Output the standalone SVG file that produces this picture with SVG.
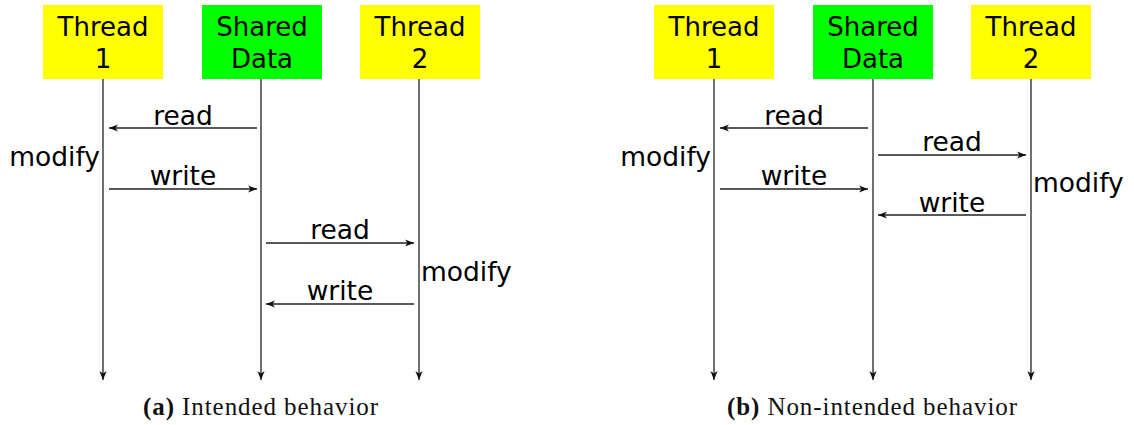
<svg xmlns="http://www.w3.org/2000/svg" width="1134" height="425" viewBox="0 0 1134 425">
  <style>
    .thread { fill: #ffff00; }
    .shared { fill: #00ff00; }
    .box-text { font-family: "DejaVu Sans", sans-serif; font-size: 26px; fill: #000; text-anchor: middle; }
    .label { font-family: "DejaVu Sans", sans-serif; font-size: 26.5px; fill: #000; text-anchor: middle; }
    .life { stroke: #222; stroke-width: 1.3; fill: none; marker-end: url(#tip); }
    .msg { stroke: #222; stroke-width: 1.3; fill: none; marker-end: url(#tip); }
    .caption { font-family: "Liberation Serif", serif; font-size: 25px; fill: #111; }
    .caption .tag { font-weight: bold; }
  </style>
  <defs>
    <marker id="tip" markerUnits="userSpaceOnUse" markerWidth="12" markerHeight="10" viewBox="-10 -5 12 10" refX="0" refY="0" orient="auto">
      <path d="M0,0 L-9,-3.6 L-6.5,0 L-9,3.6 z" fill="#111"/>
    </marker>
  </defs>

  <!-- (a) intended behaviour -->
  <g id="a-thread1">
    <rect class="thread" x="43" y="5" width="120" height="74"/>
    <text class="box-text" x="103" y="36">Thread</text>
    <text class="box-text" x="103" y="68">1</text>
  </g>
  <g id="a-shared">
    <rect class="shared" x="202" y="5" width="120" height="74"/>
    <text class="box-text" x="262" y="36">Shared</text>
    <text class="box-text" x="262" y="68">Data</text>
  </g>
  <g id="a-thread2">
    <rect class="thread" x="360" y="5" width="120" height="74"/>
    <text class="box-text" x="420" y="36">Thread</text>
    <text class="box-text" x="420" y="68">2</text>
  </g>
  <g id="a-connectors">
    <line class="life" x1="103" y1="79" x2="103" y2="380"/>
    <line class="life" x1="261" y1="79" x2="261" y2="380"/>
    <line class="life" x1="419" y1="79" x2="419" y2="380"/>
    <line class="msg" x1="257" y1="128" x2="109" y2="128"/>
    <line class="msg" x1="109" y1="189" x2="257" y2="189"/>
    <line class="msg" x1="266" y1="243" x2="414" y2="243"/>
    <line class="msg" x1="414" y1="304" x2="266" y2="304"/>
  </g>
  <g id="a-labels">
    <text class="label" x="183" y="125">read</text>
    <text class="label" x="183" y="185">write</text>
    <text class="label" x="340" y="239">read</text>
    <text class="label" x="340" y="300">write</text>
    <text class="label" x="100" y="166" style="text-anchor:end">modify</text>
    <text class="label" x="421" y="281" style="text-anchor:start">modify</text>
  </g>
  <text class="caption" x="143" y="415" textLength="235" lengthAdjust="spacing"><tspan class="tag">(a)</tspan> Intended behavior</text>

  <!-- (b) non-intended behaviour -->
  <g id="b-thread1">
    <rect class="thread" x="654" y="5" width="120" height="74"/>
    <text class="box-text" x="714" y="36">Thread</text>
    <text class="box-text" x="714" y="68">1</text>
  </g>
  <g id="b-shared">
    <rect class="shared" x="813" y="5" width="120" height="74"/>
    <text class="box-text" x="873" y="36">Shared</text>
    <text class="box-text" x="873" y="68">Data</text>
  </g>
  <g id="b-thread2">
    <rect class="thread" x="971" y="5" width="120" height="74"/>
    <text class="box-text" x="1031" y="36">Thread</text>
    <text class="box-text" x="1031" y="68">2</text>
  </g>
  <g id="b-connectors">
    <line class="life" x1="714" y1="79" x2="714" y2="380"/>
    <line class="life" x1="873" y1="79" x2="873" y2="380"/>
    <line class="life" x1="1031" y1="79" x2="1031" y2="380"/>
    <line class="msg" x1="868" y1="128" x2="720" y2="128"/>
    <line class="msg" x1="878" y1="155" x2="1026" y2="155"/>
    <line class="msg" x1="720" y1="189" x2="868" y2="189"/>
    <line class="msg" x1="1026" y1="215" x2="878" y2="215"/>
  </g>
  <g id="b-labels">
    <text class="label" x="794" y="125">read</text>
    <text class="label" x="952" y="151">read</text>
    <text class="label" x="794" y="185">write</text>
    <text class="label" x="952" y="212">write</text>
    <text class="label" x="711" y="166" style="text-anchor:end">modify</text>
    <text class="label" x="1033" y="192" style="text-anchor:start">modify</text>
  </g>
  <text class="caption" x="727" y="415" textLength="290" lengthAdjust="spacing"><tspan class="tag">(b)</tspan> Non-intended behavior</text>
</svg>
